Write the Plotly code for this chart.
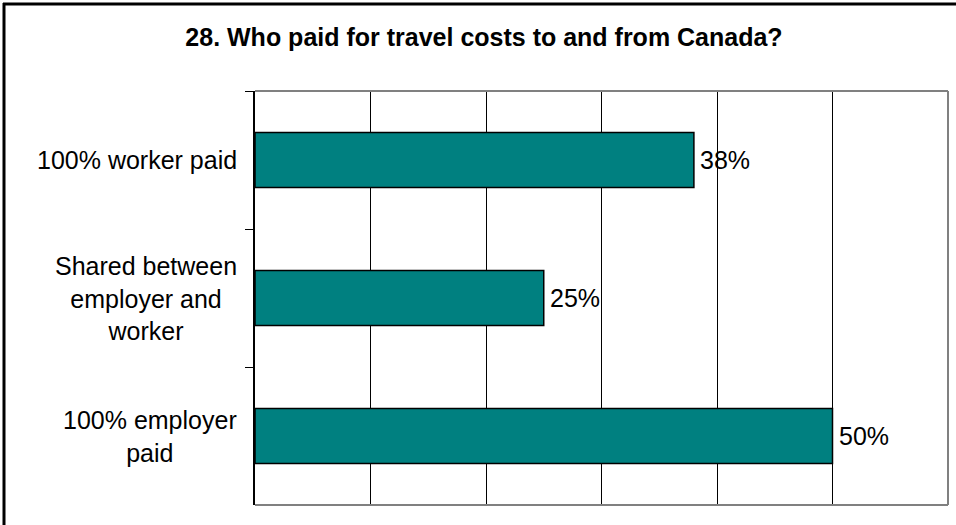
import plotly.graph_objects as go

# Survey question 28: who covered the travel costs to and from Canada
categories = ["100% worker paid", "Shared between employer and worker", "100% employer paid"]
category_labels = ["100% worker paid", "Shared between<br>employer and<br>worker", "100% employer<br>paid"]
shares = [38, 25, 50]
x_ticks = [0, 10, 20, 30, 40, 50, 60]

FONT = "Liberation Sans, Arial, sans-serif"
TEAL = "#008080"

fig = go.Figure(
    go.Bar(
        x=shares,
        y=categories,
        orientation="h",
        width=0.4,
        marker=dict(color=TEAL, line=dict(color="black", width=1.5)),
        hoverinfo="skip",
    )
)

# Category labels, centred line-by-line and right-aligned to the axis
annotations = [
    dict(
        x=0, xref="paper", y=cat, yref="y",
        text=lab, showarrow=False,
        xanchor="right", yanchor="middle", align="center",
        xshift=-16,
        font=dict(family=FONT, size=25, color="black"),
    )
    for cat, lab in zip(categories, category_labels)
]

# Value labels just past the end of each bar
annotations += [
    dict(
        x=v, xref="x", y=cat, yref="y",
        text=f"{v}%", showarrow=False,
        xanchor="left", yanchor="middle",
        xshift=4,
        font=dict(family=FONT, size=25, color="black"),
    )
    for cat, v in zip(categories, shares)
]

W, H = 956, 525
L, R, T, B = 255, 8, 91, 20
pw, ph = W - L - R, H - T - B

def px_x(x):
    return (x - L) / pw

def px_y(y):
    return (H - B - y) / ph

shapes = [
    # plot-area frame (top, right, bottom) in grey
    dict(type="line", xref="paper", yref="paper", x0=0, x1=1, y0=1, y1=1,
         line=dict(color="#808080", width=2)),
    dict(type="line", xref="paper", yref="paper", x0=1, x1=1, y0=0, y1=1,
         line=dict(color="#808080", width=2)),
    dict(type="line", xref="paper", yref="paper", x0=0, x1=1, y0=0, y1=0,
         line=dict(color="#808080", width=2)),
    # outer chart border (top and left)
    dict(type="line", xref="paper", yref="paper",
         x0=px_x(3), x1=px_x(W + 5), y0=px_y(4), y1=px_y(4),
         line=dict(color="black", width=3)),
    dict(type="line", xref="paper", yref="paper",
         x0=px_x(4), x1=px_x(4), y0=px_y(3), y1=px_y(H + 5),
         line=dict(color="black", width=3)),
]

fig.update_layout(
    width=W, height=H,
    margin=dict(l=L, r=R, t=T, b=B),
    paper_bgcolor="white",
    plot_bgcolor="white",
    showlegend=False,
    title=dict(
        text="<b>28. Who paid for travel costs to and from Canada?</b>",
        xref="container", x=484 / W, xanchor="center",
        yref="container", y=1 - 37 / H, yanchor="middle",
        font=dict(family=FONT, size=25, color="black"),
    ),
    xaxis=dict(
        range=[0, 60],
        tickvals=x_ticks,
        showticklabels=False,
        showgrid=True, gridcolor="black", gridwidth=1,
        zeroline=False, showline=False, ticks="",
        fixedrange=True,
    ),
    yaxis=dict(
        autorange="reversed",
        showticklabels=False,
        showline=True, linecolor="black", linewidth=1.5,
        ticks="outside", tickson="boundaries", ticklen=8,
        tickcolor="black", tickwidth=1,
        showgrid=False, zeroline=False,
        fixedrange=True,
    ),
    annotations=annotations,
    shapes=shapes,
)

fig.write_html("out.html")
